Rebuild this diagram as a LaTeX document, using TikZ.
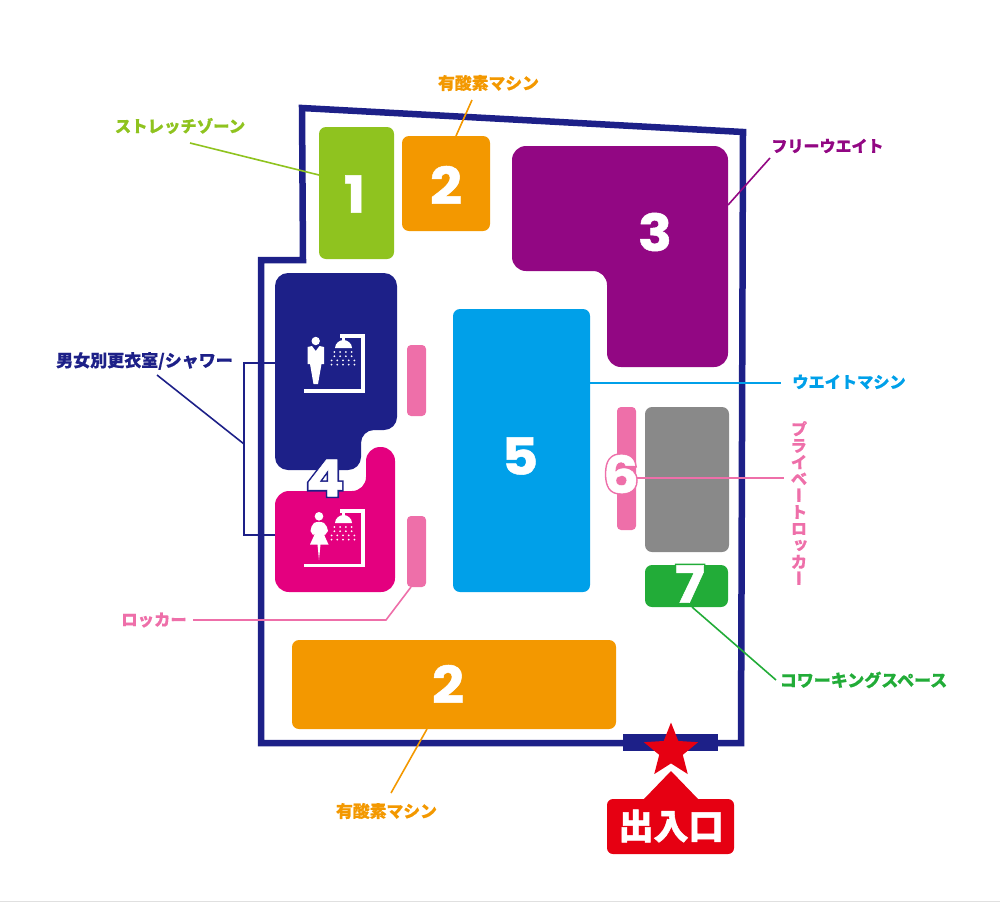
\documentclass[tikz,border=0pt]{standalone}
\usepackage{fontspec}
\usetikzlibrary{shapes.geometric}
\newfontfamily\jp[FakeBold=0.5]{Noto Sans CJK JP}
\newfontfamily\jpheavy[FakeBold=1.5]{Noto Sans CJK JP}
\newfontfamily\jpv[RawFeature=+vert,FakeBold=0.5]{Noto Sans CJK JP}
\newfontfamily\numf[FakeBold=1,FakeStretch=1.1]{Poppins}
\newfontfamily\numfat[FakeBold=7,FakeStretch=1.1]{Poppins}
\definecolor{navy}{HTML}{1D2088}
\definecolor{lime}{HTML}{8FC31F}
\definecolor{orangeb}{HTML}{F39800}
\definecolor{purpleb}{HTML}{920783}
\definecolor{blueb}{HTML}{00A0E9}
\definecolor{pinkb}{HTML}{EE6FA9}
\definecolor{magb}{HTML}{E4007F}
\definecolor{grayb}{HTML}{898989}
\definecolor{greenb}{HTML}{22AC38}
\definecolor{redb}{HTML}{E60012}
\tikzset{
  room/.style={rounded corners=7pt},
  leader/.style={line width=1.6pt},
  lab/.style={inner sep=0pt,font=\jp\bfseries\fontsize{16.4}{18}\selectfont},
  num/.style={inner sep=0pt,text=white,font=\numf\bfseries\fontsize{51}{51}\selectfont},
  fat/.style={inner sep=0pt,font=\numfat\bfseries\fontsize{51}{51}\selectfont},
  iconline/.style={draw=white,line width=3.6pt,fill=none},
}
\newcommand{\showerdots}[2]{%
  \foreach \r/\n in {0/4,1/4,2/5,3/5}{
    \foreach \c in {1,...,\n}{
      \fill[white] ({#1-(\n-1)*2.85+(\c-1)*5.7},{#2+\r*4.2}) circle (1pt);
    }}}
\begin{document}
\begin{tikzpicture}[x=1pt,y=-1pt]
\useasboundingbox (0,0) rectangle (1000,902);
\fill[black!12] (0,900.5) rectangle (1000,902);
% walls
\draw[navy,line width=6.5pt,miter limit=10] (302,108) -- (743,132) -- (741,743) -- (261,743) -- (261,260) -- (303,260) -- cycle;
\fill[navy] (623,734) rectangle (718,751);
% leader ends
\coordinate (l1) at (190,143);
\coordinate (l2) at (472,100);
\coordinate (l3) at (770,158);
\coordinate (l5) at (781,383);
\coordinate (l6) at (784,478);
\coordinate (l7) at (776,680);
\coordinate (l2b) at (391,793);
\coordinate (l8a) at (193,620);
\coordinate (l8b) at (386,620);
\coordinate (l4a) at (157,375);
\coordinate (l4b) at (244,444);
\coordinate (br1) at (244,363);
\coordinate (br2) at (244,535);
% rooms
\fill[lime,room] (319,127) rectangle (394,259);
\fill[orangeb,room] (402,136) rectangle (490,231);
\fill[purpleb,rounded corners=14pt] (512,146) -- (728,146) -- (728,367) -- (607,367) -- (607,271) -- (512,271) -- cycle;
\fill[blueb,room] (453,309) rectangle (590,592);
\fill[pinkb,rounded corners=4pt] (407,345) rectangle (426,416);
\fill[pinkb,rounded corners=4pt] (407,516) rectangle (426,587);
\fill[pinkb,rounded corners=4pt] (617,407) rectangle (636,530);
\fill[grayb,room] (645,407) rectangle (729,552);
\fill[greenb,room] (645,565) rectangle (728,607);
\fill[orangeb,room] (292,640) rectangle (616,729);
\fill[navy,rounded corners=13pt] (275,273) -- (397,273) -- (397,430) -- (361,430) -- (361,470) -- (275,470) -- cycle;
\fill[magb,rounded corners=14pt] (366,447) -- (395,447) -- (395,592) -- (275,592) -- (275,491) -- (366,491) -- cycle;
% leader lines
\draw[leader,lime] (l1) -- (319,175);
\draw[leader,orangeb] (l2) -- (456,136);
\draw[leader,purpleb] (l3) -- (728,205);
\draw[leader,blueb] (590,383) -- (l5);
\draw[leader,pinkb] (636,478) -- (l6);
\draw[leader,greenb] (692,607) -- (l7);
\draw[leader,orangeb] (427,729) -- (l2b);
\draw[leader,pinkb] (l8a) -- (l8b) -- (411,587);
\draw[leader,navy] (275,363) -- (br1) -- (br2) -- (275,535);
\draw[leader,navy] (l4a) -- (l4b);
% labels
\node[lab,text=lime] (t1) at (180,126) {ストレッチゾーン};
\node[lab,text=orangeb,font=\jp\bfseries\fontsize{16.8}{18}\selectfont] (t2) at (488.5,83) {有酸素マシン};
\node[lab,text=purpleb,font=\jp\bfseries\fontsize{16}{18}\selectfont] (t3) at (827.5,146) {フリーウエイト};
\node[lab,text=blueb,font=\jp\bfseries\fontsize{16.2}{18}\selectfont] (t5) at (849,382) {ウエイトマシン};
\node[lab,text=pinkb,font=\jpv\bfseries\fontsize{16.6}{16.6}\selectfont,align=center] (t6) at (799,503) {プ\\ラ\\イ\\ベ\\ー\\ト\\ロ\\ッ\\カ\\ー};
\node[lab,text=greenb,font=\jp\bfseries\fontsize{17}{18}\selectfont] (t7) at (863.5,680) {コワーキングスペース};
\node[lab,text=orangeb,font=\jp\bfseries\fontsize{16.8}{18}\selectfont] (t2b) at (386.5,811) {有酸素マシン};
\node[lab,text=pinkb] (t8) at (154,620) {ロッカー};
\node[lab,text=navy,font=\jp\bfseries\fontsize{17}{18}\selectfont] (t4) at (144.5,361) {男女別更衣室/シャワー};
% numbers
\node[num] (n1) at (354.5,194) {1};
\node[num] (n2) at (446,185) {2};
\node[num] (n3) at (655,232) {3};
\node[fat,text=navy] (n4o) at (325,478) {4};
\node[num] (n4) at (325,478) {4};
\node[num] (n5) at (520,456) {5};
\node[fat,text=pinkb] (n6o) at (621,474) {6};
\node[num] (n6) at (621,474) {6};
\node[fat,text=greenb] (n7o) at (690,584) {7};
\node[num] (n7) at (690,584) {7};
\node[num] (n2c) at (448,684) {2};
% male icon
\fill[white] (315.7,341) circle (4.2);
\fill[white] (307.5,347) -- (312,346) -- (315.7,351) -- (319.5,346) -- (324,347) -- (324,364) -- (321.5,364) -- (318,384) -- (313.5,384) -- (310,364) -- (307.5,364) -- cycle;
\draw[iconline] (304,391) -- (363,391) -- (363,336) -- (340,336);
\fill[white] (342,336) rectangle (345,341);
\fill[white] (335,348) .. controls (335,343) and (340,340) .. (343.5,340) .. controls (347,340) and (352,343) .. (352,348) -- cycle;
\showerdots{343}{352}
% female icon
\fill[white] (319,516.3) circle (4.3);
\fill[white] (314,523) .. controls (317,521.5) and (321,521.5) .. (324,523) .. controls (326,525) and (328,528) .. (328,531) -- (325,535) -- (323.5,533.5) -- (328.5,544.5) -- (320.5,544.5) -- (319,560) -- (317.5,544.5) -- (310,544.5) -- (315,533.5) -- (313,535) -- (310.5,531) .. controls (310.5,528) and (312,525) .. (314,523) -- cycle;
\draw[iconline] (304,565.5) -- (363,565.5) -- (363,511) -- (340,511);
\fill[white] (342,511) rectangle (345,516);
\fill[white] (335,523) .. controls (335,518) and (340,515) .. (343.5,515) .. controls (347,515) and (352,518) .. (352,523) -- cycle;
\showerdots{343}{527}
% entrance
\node[star,star points=5,star point ratio=2.3,fill=redb,minimum size=57pt,inner sep=0pt] (door) at (671,751) {};
\fill[white] (640,799) -- (671,767) -- (702,799) -- cycle;
\fill[redb,rounded corners=6pt] (607,799) rectangle (734,854);
\fill[redb] (643,800) -- (671,771) -- (699,800) -- cycle;
\node[inner sep=0pt,text=white,font=\jpheavy\bfseries\fontsize{35}{38}\selectfont] (t9) at (671,826) {出入口};
\end{tikzpicture}
\end{document}
